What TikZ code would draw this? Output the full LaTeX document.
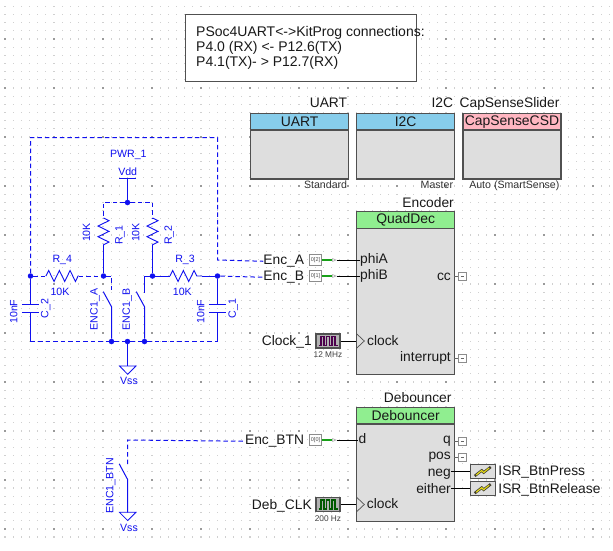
\documentclass[tikz,border=0pt]{standalone}
\usepackage{fontspec}
\setmainfont{Liberation Sans}
\usetikzlibrary{positioning,decorations.pathmorphing,shapes.geometric}
\definecolor{schblue}{HTML}{1010F0}
\definecolor{griddot}{HTML}{D0D0D0}
\definecolor{gridbold}{HTML}{9A9A9A}
\definecolor{blockgray}{HTML}{DEDEDE}
\definecolor{edgegray}{HTML}{505050}
\definecolor{headblue}{HTML}{87CDEB}
\definecolor{headpink}{HTML}{FFB6C1}
\definecolor{headgreen}{HTML}{90EE90}
\definecolor{pingreen}{HTML}{18A018}
\tikzset{
 wire/.style={draw=schblue,line width=1pt},
 net/.style={draw=schblue,line width=1pt,dash pattern=on 4.5pt off 3pt},
 res/.style={wire,line width=.9pt,decorate,decoration={zigzag,segment length=10.7pt,amplitude=5.5pt}},
 plate/.style={draw=schblue,line width=1.6pt},
 junc/.style={circle,fill=schblue,inner sep=0pt,minimum size=5.5pt},
 blue label/.style={text=schblue,font=\fontsize{10.6}{12}\selectfont,inner sep=0pt,anchor=mid},
 flat/.style={yshift=-1pt},
 name label/.style={font=\fontsize{13.8}{15}\selectfont,inner sep=0pt,anchor=mid east,text=black!90,yshift=-2pt},
 port west/.style={font=\fontsize{13.8}{15}\selectfont,inner sep=0pt,anchor=mid west,text=black!90,yshift=-1.7pt},
 small label/.style={font=\fontsize{10.6}{12}\selectfont,inner sep=0pt,anchor=mid east,text=black!80},
 tiny label/.style={font=\fontsize{8.3}{10}\selectfont,inner sep=0pt,anchor=mid,text=black!75},
 body/.style={draw=edgegray,fill=blockgray,line width=1.3pt,anchor=north west,inner sep=0pt},
 head/.style={draw=edgegray,line width=1.3pt,anchor=north west,inner sep=0pt,minimum height=16.5pt,font=\fontsize{13.9}{15}\selectfont,text=black!90},
 pinbox/.style={draw=black!45,line width=.9pt,fill=white,minimum width=11.5pt,minimum height=11.5pt,inner sep=0pt,font=\fontsize{5.5}{5.5}\selectfont,text=black!70},
 stub/.style={draw=black!45,line width=.7pt,fill=white,minimum width=8pt,minimum height=8pt,inner sep=0pt},
 tipmark/.style={isosceles triangle,draw=black!40,line width=.5pt,inner sep=0pt,minimum height=3.5pt,minimum width=3pt,isosceles triangle stretches},
 clockbox/.style={draw=edgegray,line width=1.1pt,fill=black!30,minimum width=24pt,minimum height=14pt,inner sep=0pt},
 isrbox/.style={draw=edgegray,line width=1.1pt,fill=blockgray,minimum width=25pt,minimum height=14pt,inner sep=0pt},
 bolt/.pic={
  \draw[black!70!olive,line width=2.6pt] (-8,4.5) -- (-1,-1) -- (1,1) -- (8,-4.5);
  \draw[yellow!90!black,line width=1.1pt] (-6.5,3.5) -- (-1,-1) -- (1,1) -- (6.5,-3.5);
 },
}
\begin{document}
\begin{tikzpicture}[x=1pt,y=-1pt]
\useasboundingbox[fill=white] (0,0) rectangle (613,551);
% dot grid
\foreach \i in {0,...,74}{
 \foreach \j in {0,...,65}{
  \pgfmathparse{(mod(\i,6)==0 && mod(\j,6)==4) ? "gridbold" : "griddot"}
  \fill[\pgfmathresult] (5+\i*8.166-.6,6.3+\j*8.166-.6) rectangle ++(1.2,1.2);
 }
}
% note
\node[draw=edgegray,fill=white,line width=.9pt,anchor=north west,minimum width=231pt,minimum height=66pt,inner sep=0pt] (note) at (185,14.5) {};
\node[anchor=west,inner sep=0pt,align=left,font=\fontsize{14}{15.3}\selectfont,text=black!90] (note text) at (196,48) {PSoc4UART<->KitProg connections:\\P4.0 (RX) <- P12.6(TX)\\P4.1(TX)- > P12.7(RX)};
% top blocks
\foreach \n/\x/\col/\title/\hd/\sub in {uart/250/headblue/UART/UART/Standard,i2c/356/headblue/I2C/I2C/Master,csd/462.3/headpink/CapSenseSlider/CapSenseCSD/Auto (SmartSense)}{
 \node[body,minimum width=98pt,minimum height=65.5pt] (\n) at (\x,112.7) {};
 \node[head,fill=\col,minimum width=98pt] (\n head) at (\x,112.7) {\hd};
 \node[name label,above=9.5pt of \n.north east,anchor=mid east,xshift=-2pt] (\n title) {\title};
 \node[small label,below=6.5pt of \n.south east,anchor=mid east,xshift=-2pt] (\n sub) {\sub};
}
% encoder block
\node[body,minimum width=98pt,minimum height=162.5pt] (quaddec) at (356,211) {};
\node[head,fill=headgreen,minimum width=98pt] (quaddec head) at (356,211) {QuadDec};
\node[name label] (encoder title) at (454,202.7) {Encoder};
\node[port west] (phiA) at (360,259.5) {phiA};
\node[port west] (phiB) at (360,275.5) {phiB};
\node[port west] (qd clock) at (367,341) {clock};
\node[name label] (cc) at (451,275.5) {cc};
\node[name label] (interrupt) at (451,357) {interrupt};
% debouncer block
\node[body,minimum width=98pt,minimum height=114pt] (deb) at (356,406.7) {};
\node[head,fill=headgreen,minimum width=98pt] (deb head) at (356,406.7) {Debouncer};
\node[name label] (deb title) at (451.7,398.3) {Debouncer};
\node[port west] (deb d) at (358.3,439.5) {d};
\node[port west] (deb clock) at (366.7,504.5) {clock};
\node[name label] (deb q) at (451,439) {q};
\node[name label] (deb pos) at (451,455) {pos};
\node[name label] (deb neg) at (451,471.5) {neg};
\node[name label] (deb either) at (451,488.5) {either};
% design wide pins
\foreach \n/\y/\lab/\pin/\tgt in {enca/260/Enc\_A/0[2]/phiA,encb/276/Enc\_B/0[1]/phiB,encbtn/440/Enc\_BTN/0[0]/deb d}{
 \node[name label] (\n) at (304.3,\y) {\lab};
 \node[pinbox] (\n pin) at (315.5,\y) {\pin};
 \node[tipmark] (\n tip) at (333.5,\y) {};
 \draw[pingreen,line width=1.2pt] (\n pin.east) -- (\n tip.west);
 \draw[black,line width=1pt] (\n tip.east) -- (\n tip.east -| \tgt.west);
}
% clocks
\foreach \n/\y/\lab/\frq/\col/\tgt in {clk/341/Clock\_1/12 MHz/violet!60!black/quaddec,dclk/504.5/Deb\_CLK/200 Hz/green!35!black/deb}{
 \node[clockbox] (\n) at (328,\y) {};
 \node[name label,left=3.5pt of \n,anchor=mid east] (\n label) {\lab};
 \node[tiny label,below=6.5pt of \n,anchor=mid] (\n freq) {\frq};
 \draw[\col,line width=1.6pt] (318.5,\y+4.5) -- ++(2.5,0) -- ++(0,-9) -- ++(3,0) -- ++(0,9) -- ++(2.5,0) -- ++(0,-9) -- ++(3,0) -- ++(0,9) -- ++(2.5,0) -- ++(0,-9) -- ++(3,0) -- ++(0,9) -- ++(2.5,0);
 \draw[black,line width=1pt] (\n.east) -- (\n.east -| \tgt.west);
 \draw[edgegray,line width=.7pt] (356.3,\y-7.5) -- ++(8,7.5) -- ++(-8,7.5);
}
% output stubs
\foreach \n/\src in {cc stub/cc,int stub/interrupt,q stub/deb q,pos stub/deb pos}{
 \node[stub,anchor=center] (\n) at (462.5,0 |- \src.east) {};
 \draw[black!60,line width=.8pt] (\n.west) -- ++(-4.5,0);
 \draw[black!60,line width=.7pt] ([xshift=-2pt]\n.center) -- ([xshift=1pt]\n.center);
}
% interrupts
\foreach \n/\y/\src/\lab in {isr press/471.5/deb neg/ISR\_BtnPress,isr rel/488.7/deb either/ISR\_BtnRelease}{
 \node[isrbox] (\n) at (482.7,\y) {};
 \pic at (\n.center) {bolt};
 \node[port west,right=2.5pt of \n,anchor=mid west] (\n label) {\lab};
 \draw[black,line width=1pt] (\n.west) -- (\n.west -| \src.east);
}
% resistors, caps, switches
\node[blue label,flat] (pwr) at (128.3,154.3) {PWR\_1};
\node[blue label,flat] (vdd) at (127.7,171.7) {Vdd};
\coordinate (vdd bar) at (127.5,178.5);
\node[junc] (top) at (127.5,202.5) {};
\coordinate (r1 top) at (103.5,202.5);
\coordinate (r2 top) at (152.5,202.5);
\coordinate (r1 a) at (103.5,218);
\coordinate (r1 b) at (103.5,250);
\coordinate (r2 a) at (152.5,218);
\coordinate (r2 b) at (152.5,250);
\node[junc] (jl) at (30.5,276) {};
\node[junc] (ja) at (103.5,276) {};
\node[junc] (jb) at (152.5,276) {};
\node[junc] (jr) at (217.5,276) {};
\coordinate (r4 a) at (46,276);
\coordinate (r4 b) at (78.5,276);
\coordinate (r3 a) at (170,276);
\coordinate (r3 b) at (202,276);
\node[junc] (ga) at (111.5,341.5) {};
\node[junc] (gm) at (127.5,341.5) {};
\node[junc] (gb) at (144.5,341.5) {};
\draw[wire] (119.3,178.5) -- (136,178.5);
\draw[wire] (vdd bar) -- (top);
\draw[net] (top) -- (r1 top) -- (r1 a);
\draw[net] (top) -- (r2 top) -- (r2 a);
\foreach \a/\b in {r1 a/r1 b,r2 a/r2 b,r4 a/r4 b,r3 a/r3 b}{
 \draw[res] (\a) -- (\b);
}
\draw[wire] (r1 b) -- (ja);
\draw[wire] (r2 b) -- (jb);
\draw[net] (jl) -- (r4 a);
\draw[net] (r4 b) -- (ja);
\draw[wire] (jb) -- (r3 a);
\draw[wire] (r3 b) -- (jr);
\node[blue label,flat] (r4 name) at (62.3,258.5) {R\_4};
\node[blue label,flat] (r4 val) at (60,292) {10K};
\node[blue label,flat] (r3 name) at (185,258.5) {R\_3};
\node[blue label,flat] (r3 val) at (182.3,292) {10K};
\node[blue label,rotate=90] (r1 val) at (87.5,232.5) {10K};
\node[blue label,rotate=90] (r1 name) at (120,235) {R\_1};
\node[blue label,rotate=90] (r2 val) at (136.7,232.5) {10K};
\node[blue label,rotate=90] (r2 name) at (169.3,235) {R\_2};
% encoder switches
\coordinate (sa up) at (111.5,292.7);
\coordinate (sa low) at (111.5,306.7);
\coordinate (sb up) at (144.5,292.7);
\coordinate (sb low) at (144.5,306.7);
\coordinate (sa end) at (103.3,291.7);
\coordinate (sb end) at (136.3,291.7);
\draw[net] (ja) -| (sa up);
\draw[wire] (jb) -| (sb up);
\draw[wire] (sa end) -- (sa low) -- (ga);
\draw[wire] (sb end) -- (sb low) -- (gb);
\node[blue label,rotate=90] (enc a) at (95,309.5) {ENC1\_A};
\node[blue label,rotate=90] (enc b) at (127.3,309.5) {ENC1\_B};
% caps
\foreach \n/\x/\j/\lab/\vx/\lx in {c2/30.5/jl/C\_2/14.7/45.7,c1/217.5/jr/C\_1/201.7/233.3}{
 \coordinate (\n t) at (\x,304.3);
 \coordinate (\n b) at (\x,312.3);
 \coordinate (\n g) at (\x,341.5);
 \draw[wire] (\j) -- (\n t);
 \draw[plate] (\x-8.7,304.3) -- (\x+8.7,304.3);
 \draw[plate] (\x-8.7,312.3) -- (\x+8.7,312.3);
 \draw[wire] (\n b) -- (\n g);
 \node[blue label,rotate=90] (\n val) at (\vx,311.7) {10nF};
 \node[blue label,rotate=90] (\n name) at (\lx,308.5) {\lab};
}
\draw[net] (c2g) -- (ga);
\draw[net] (ga) -- (gm);
\draw[net] (gm) -- (gb);
\draw[net] (gb) -- (c1g);
% ground symbols
\coordinate (gnd a) at (127.5,366);
\coordinate (gnd b) at (127.5,512.3);
\draw[wire] (gm) -- (gnd a);
\draw[schblue,line width=.8pt] (119.5,366) -- (136,366) -- (127.7,374.3) -- cycle;
\node[blue label,flat] (vss a) at (129,380.5) {Vss};
\draw[schblue,line width=.8pt] (119.5,512.3) -- (136,512.3) -- (127.7,520.6) -- cycle;
\node[blue label,flat] (vss b) at (129,527.7) {Vss};
% button
\coordinate (btn up) at (127.5,464);
\coordinate (btn low) at (127.5,479.3);
\coordinate (btn end) at (119.3,464);
\coordinate (btn corner) at (127.5,440);
\node[blue label,rotate=90] (enc btn) at (110.7,486) {ENC1\_BTN};
\draw[wire] (btn end) -- (btn low) -- (gnd b);
\draw[net] (btn up) -- (btn corner) -- (encbtn.west);
% nets to the pins
\coordinate (box tl) at (30.5,137.5);
\coordinate (box tr) at (217.5,137.5);
\coordinate (box r) at (217.5,260);
\draw[net] (jl) -- (box tl) -- (box tr) -- (box r) -- (enca.west);
\draw[net] (jr) -- (encb.west);
\end{tikzpicture}
\end{document}
